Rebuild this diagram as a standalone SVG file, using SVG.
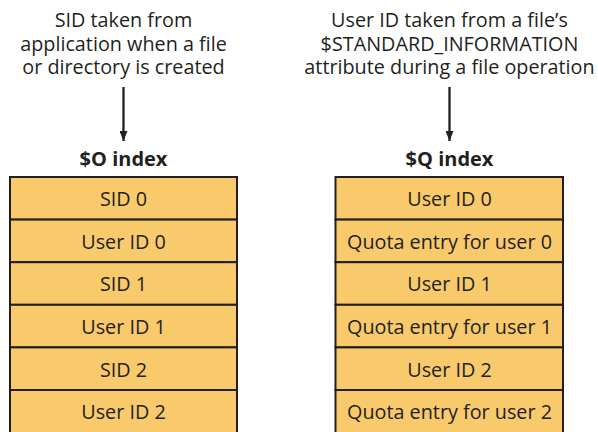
<svg xmlns="http://www.w3.org/2000/svg" width="598" height="432" viewBox="0 0 598 432">
<defs>
<style>
.t{font-family:"Open Sans","Noto Sans","DejaVu Sans",sans-serif;font-size:19.8px;fill:#231f20;text-anchor:middle}
.h{font-family:"Open Sans","Noto Sans","DejaVu Sans",sans-serif;font-size:20px;font-weight:bold;fill:#231f20;text-anchor:middle}
.cell{fill:#f8ca6b;stroke:#231f20;stroke-width:2}
.c{stroke:#231f20;stroke-width:2.3;fill:none}
</style>
<marker id="ah" viewBox="0 0 10 8" refX="10" refY="4" markerWidth="10" markerHeight="8" markerUnits="userSpaceOnUse" orient="auto">
<path d="M0,0 L10,4 L0,8 z" fill="#231f20"/>
</marker>
</defs>
<rect width="598" height="432" fill="#ffffff"/>
<g id="src-left">
<text class="t" x="123.5" y="27">SID taken from<tspan x="123.5" dy="23.7">application when a file</tspan><tspan x="123.5" dy="23.7">or directory is created</tspan></text>
</g>
<g id="src-right">
<text class="t" x="449.5" y="27">User ID taken from a file’s<tspan x="449.5" dy="23.7">$STANDARD_INFORMATION</tspan><tspan x="449.5" dy="23.7">attribute during a file operation</tspan></text>
</g>
<g id="connectors">
<line class="c" x1="123.5" y1="87" x2="123.5" y2="141" marker-end="url(#ah)"/>
<line class="c" x1="449.5" y1="87" x2="449.5" y2="141" marker-end="url(#ah)"/>
</g>
<g id="o-index">
<text class="h" x="123.5" y="165.7">$O index</text>
<rect class="cell" x="10" y="177" width="227" height="42.6"/>
<rect class="cell" x="10" y="219.6" width="227" height="42.6"/>
<rect class="cell" x="10" y="262.2" width="227" height="42.6"/>
<rect class="cell" x="10" y="304.8" width="227" height="42.6"/>
<rect class="cell" x="10" y="347.4" width="227" height="42.6"/>
<rect class="cell" x="10" y="390" width="227" height="44"/>
<text class="t" x="123.5" y="206.2">SID 0</text>
<text class="t" x="123.5" y="248.8">User ID 0</text>
<text class="t" x="123.5" y="291.4">SID 1</text>
<text class="t" x="123.5" y="334">User ID 1</text>
<text class="t" x="123.5" y="376.6">SID 2</text>
<text class="t" x="123.5" y="419.2">User ID 2</text>
</g>
<g id="q-index">
<text class="h" x="449.5" y="165.7">$Q index</text>
<rect class="cell" x="335.5" y="177" width="227.5" height="42.6"/>
<rect class="cell" x="335.5" y="219.6" width="227.5" height="42.6"/>
<rect class="cell" x="335.5" y="262.2" width="227.5" height="42.6"/>
<rect class="cell" x="335.5" y="304.8" width="227.5" height="42.6"/>
<rect class="cell" x="335.5" y="347.4" width="227.5" height="42.6"/>
<rect class="cell" x="335.5" y="390" width="227.5" height="44"/>
<text class="t" x="449.5" y="206.2">User ID 0</text>
<text class="t" x="449.5" y="248.8">Quota entry for user 0</text>
<text class="t" x="449.5" y="291.4">User ID 1</text>
<text class="t" x="449.5" y="334">Quota entry for user 1</text>
<text class="t" x="449.5" y="376.6">User ID 2</text>
<text class="t" x="449.5" y="419.2">Quota entry for user 2</text>
</g>
</svg>
